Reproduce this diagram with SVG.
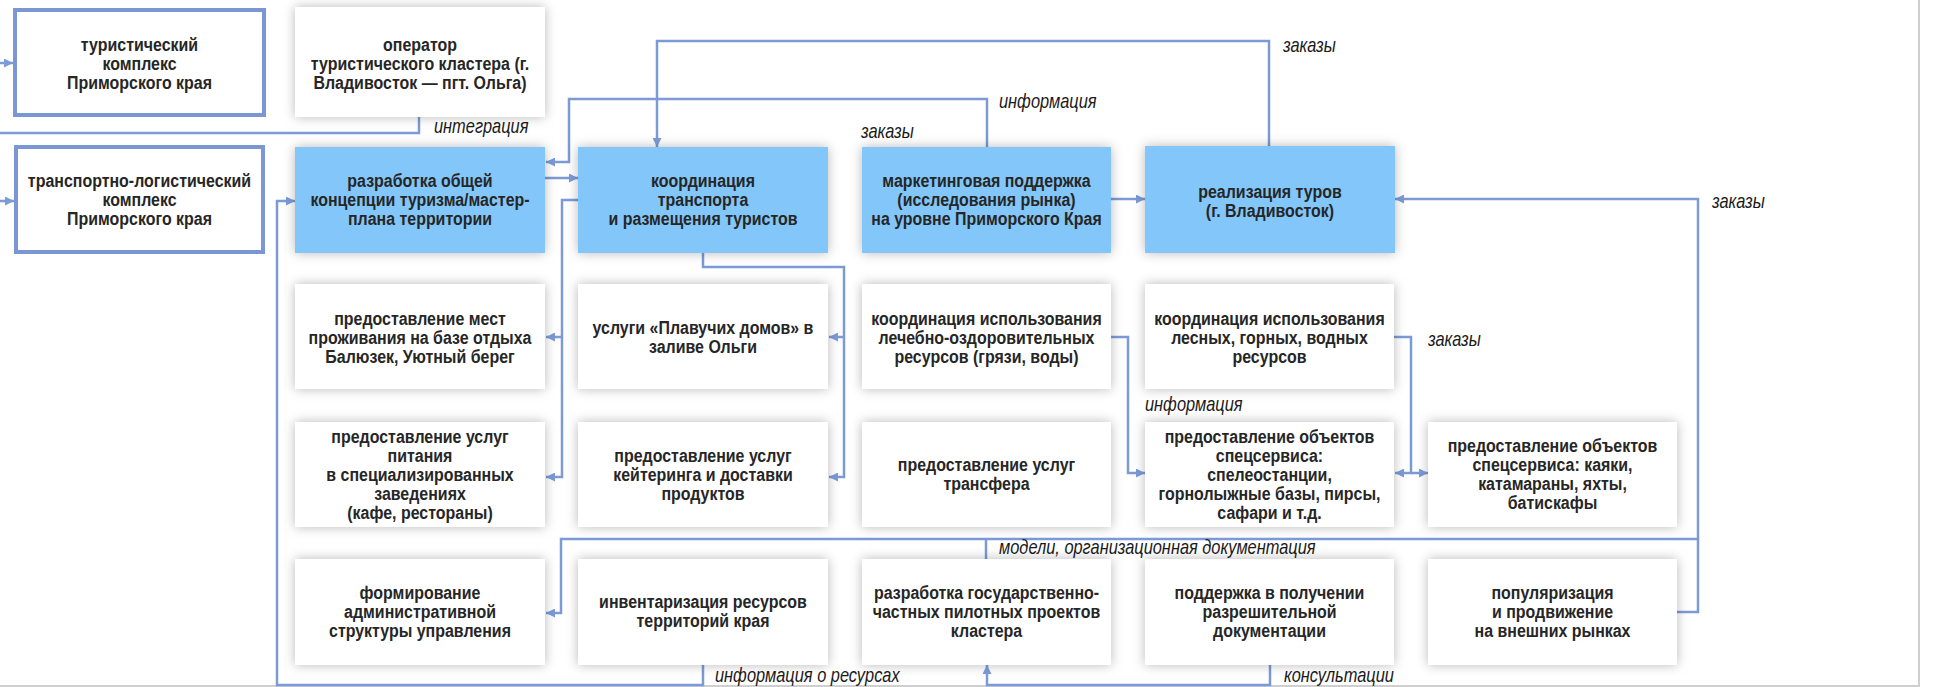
<svg xmlns="http://www.w3.org/2000/svg" width="1943" height="687" viewBox="0 0 1943 687">
<style>
.t{font-family:'Liberation Sans',Arial,sans-serif;font-weight:bold;font-size:19px;fill:#262626;text-anchor:middle}
.l{font-family:'Liberation Sans',Arial,sans-serif;font-style:italic;font-size:20px;fill:#1a1a1a}
.w{fill:#fff;filter:url(#sh)}
.b{fill:#82c6fa;filter:url(#sh)}
.o{fill:#fff;stroke:#7b97d3;stroke-width:4}
.c{fill:none;stroke:#7b9ad6;stroke-width:2.5}
.a{marker-end:url(#ar)}
</style>
<defs>
<filter id="sh" x="-20%" y="-30%" width="140%" height="160%">
<feDropShadow dx="0" dy="0" stdDeviation="6" flood-color="#000" flood-opacity="0.28"/>
</filter>
<marker id="ar" markerUnits="userSpaceOnUse" markerWidth="10" markerHeight="9" refX="9" refY="4.5" orient="auto">
<path d="M0,0 L9,4.5 L0,9 Z" fill="#7b9ad6"/>
</marker>
</defs>
<rect width="1943" height="687" fill="#fff"/>
<path d="M1919,0 V686 H0" fill="none" stroke="#cfcfcf" stroke-width="2"/>

<g id="connectors">
<path class="c a" d="M0,63 H13"/>
<path class="c a" d="M0,201 H14"/>
<path class="c" d="M419,117 V133 H0"/>
<path class="c a" d="M545,178 H578"/>
<path class="c a" d="M987,147 V99 H569 V162 H546"/>
<path class="c a" d="M1269,146 V41 H657 V147"/>
<path class="c a" d="M1111,199 H1145"/>
<path class="c a" d="M1677,612 H1698 V199 H1395"/>
<path class="c a" d="M1698,539 H561 V613 H546"/>
<path class="c" d="M986,559 V539"/>
<path class="c a" d="M578,200 H562 V477 H546"/>
<path class="c a" d="M562,337 H546"/>
<path class="c a" d="M703,253 V267 H844 V477 H829"/>
<path class="c a" d="M844,337 H829"/>
<path class="c a" d="M1111,337 H1128 V473 H1145"/>
<path class="c a" d="M1394,337 H1411 V473 H1395"/>
<path class="c a" d="M1411,473 H1428"/>
<path class="c a" d="M703,665 V685 H277 V201 H295"/>
<path class="c a" d="M1270,665 V685 H987 V665"/>
<text class="l" transform="translate(434 0) scale(.82 1)" x="0" y="133">интеграция</text>
<text class="l" transform="translate(999 0) scale(.82 1)" x="0" y="108">информация</text>
<text class="l" transform="translate(861 0) scale(.82 1)" x="0" y="138">заказы</text>
<text class="l" transform="translate(1283 0) scale(.82 1)" x="0" y="52">заказы</text>
<text class="l" transform="translate(1712 0) scale(.82 1)" x="0" y="208">заказы</text>
<text class="l" transform="translate(1428 0) scale(.82 1)" x="0" y="346">заказы</text>
<text class="l" transform="translate(1145 0) scale(.82 1)" x="0" y="411">информация</text>
<text class="l" transform="translate(999 0) scale(.82 1)" x="0" y="554">модели, организационная документация</text>
<text class="l" transform="translate(715 0) scale(.82 1)" x="0" y="682">информация о ресурсах</text>
<text class="l" transform="translate(1284 0) scale(.82 1)" x="0" y="682">консультации</text>
</g>

<g id="n-tourist"><rect class="o" x="15" y="10" width="249" height="105"/>
<text class="t" transform="translate(139.5 0) scale(.84 1)"><tspan x="0" y="51">туристический</tspan><tspan x="0" y="70">комплекс</tspan><tspan x="0" y="89">Приморского края</tspan></text></g>
<g id="n-operator"><rect class="w" x="295" y="7" width="250" height="110"/>
<text class="t" transform="translate(420 0) scale(.84 1)"><tspan x="0" y="51">оператор</tspan><tspan x="0" y="70">туристического кластера (г.</tspan><tspan x="0" y="89">Владивосток — пгт. Ольга)</tspan></text></g>
<g id="n-transport"><rect class="o" x="16" y="147" width="247" height="105"/>
<text class="t" transform="translate(139.5 0) scale(.84 1)"><tspan x="0" y="187">транспортно-логистический</tspan><tspan x="0" y="206">комплекс</tspan><tspan x="0" y="225">Приморского края</tspan></text></g>

<g id="n-concept"><rect class="b" x="295" y="147" width="250" height="106"/>
<text class="t" transform="translate(420 0) scale(.84 1)"><tspan x="0" y="187">разработка общей</tspan><tspan x="0" y="206">концепции туризма/мастер-</tspan><tspan x="0" y="225">плана территории</tspan></text></g>
<g id="n-coord"><rect class="b" x="578" y="147" width="250" height="106"/>
<text class="t" transform="translate(703 0) scale(.84 1)"><tspan x="0" y="187">координация</tspan><tspan x="0" y="206">транспорта</tspan><tspan x="0" y="225">и размещения туристов</tspan></text></g>
<g id="n-marketing"><rect class="b" x="862" y="147" width="249" height="106"/>
<text class="t" transform="translate(986.5 0) scale(.84 1)"><tspan x="0" y="187">маркетинговая поддержка</tspan><tspan x="0" y="206">(исследования рынка)</tspan><tspan x="0" y="225">на уровне Приморского Края</tspan></text></g>
<g id="n-tours"><rect class="b" x="1145" y="146" width="250" height="107"/>
<text class="t" transform="translate(1270 0) scale(.84 1)"><tspan x="0" y="198.5">реализация туров</tspan><tspan x="0" y="217.5">(г. Владивосток)</tspan></text></g>

<g id="n-lodging"><rect class="w" x="295" y="284" width="250" height="105"/>
<text class="t" transform="translate(420 0) scale(.84 1)"><tspan x="0" y="325">предоставление мест</tspan><tspan x="0" y="344">проживания на базе отдыха</tspan><tspan x="0" y="363">Балюзек, Уютный берег</tspan></text></g>
<g id="n-houseboats"><rect class="w" x="578" y="284" width="250" height="105"/>
<text class="t" transform="translate(703 0) scale(.84 1)"><tspan x="0" y="334.5">услуги «Плавучих домов» в</tspan><tspan x="0" y="353.5">заливе Ольги</tspan></text></g>
<g id="n-health"><rect class="w" x="862" y="284" width="249" height="105"/>
<text class="t" transform="translate(986.5 0) scale(.84 1)"><tspan x="0" y="325">координация использования</tspan><tspan x="0" y="344">лечебно-оздоровительных</tspan><tspan x="0" y="363">ресурсов (грязи, воды)</tspan></text></g>
<g id="n-forest"><rect class="w" x="1145" y="284" width="249" height="105"/>
<text class="t" transform="translate(1269.5 0) scale(.84 1)"><tspan x="0" y="325">координация использования</tspan><tspan x="0" y="344">лесных, горных, водных</tspan><tspan x="0" y="363">ресурсов</tspan></text></g>

<g id="n-food"><rect class="w" x="295" y="422" width="250" height="105"/>
<text class="t" transform="translate(420 0) scale(.84 1)"><tspan x="0" y="443">предоставление услуг</tspan><tspan x="0" y="462">питания</tspan><tspan x="0" y="481">в специализированных</tspan><tspan x="0" y="500">заведениях</tspan><tspan x="0" y="519">(кафе, рестораны)</tspan></text></g>
<g id="n-catering"><rect class="w" x="578" y="422" width="250" height="105"/>
<text class="t" transform="translate(703 0) scale(.84 1)"><tspan x="0" y="462">предоставление услуг</tspan><tspan x="0" y="481">кейтеринга и доставки</tspan><tspan x="0" y="500">продуктов</tspan></text></g>
<g id="n-transfer"><rect class="w" x="862" y="422" width="249" height="105"/>
<text class="t" transform="translate(986.5 0) scale(.84 1)"><tspan x="0" y="471.5">предоставление услуг</tspan><tspan x="0" y="490.5">трансфера</tspan></text></g>
<g id="n-special1"><rect class="w" x="1145" y="422" width="249" height="105"/>
<text class="t" transform="translate(1269.5 0) scale(.84 1)"><tspan x="0" y="443">предоставление объектов</tspan><tspan x="0" y="462">спецсервиса:</tspan><tspan x="0" y="481">спелеостанции,</tspan><tspan x="0" y="500">горнолыжные базы, пирсы,</tspan><tspan x="0" y="519">сафари и т.д.</tspan></text></g>
<g id="n-special2"><rect class="w" x="1428" y="422" width="249" height="105"/>
<text class="t" transform="translate(1552.5 0) scale(.84 1)"><tspan x="0" y="452.5">предоставление объектов</tspan><tspan x="0" y="471.5">спецсервиса: каяки,</tspan><tspan x="0" y="490.5">катамараны, яхты,</tspan><tspan x="0" y="509.5">батискафы</tspan></text></g>

<g id="n-admin"><rect class="w" x="295" y="559" width="250" height="106"/>
<text class="t" transform="translate(420 0) scale(.84 1)"><tspan x="0" y="599">формирование</tspan><tspan x="0" y="618">административной</tspan><tspan x="0" y="637">структуры управления</tspan></text></g>
<g id="n-inventory"><rect class="w" x="578" y="559" width="250" height="106"/>
<text class="t" transform="translate(703 0) scale(.84 1)"><tspan x="0" y="608.5">инвентаризация ресурсов</tspan><tspan x="0" y="627.5">территорий края</tspan></text></g>
<g id="n-ppp"><rect class="w" x="862" y="559" width="249" height="106"/>
<text class="t" transform="translate(986.5 0) scale(.84 1)"><tspan x="0" y="599">разработка государственно-</tspan><tspan x="0" y="618">частных пилотных проектов</tspan><tspan x="0" y="637">кластера</tspan></text></g>
<g id="n-permits"><rect class="w" x="1145" y="559" width="249" height="106"/>
<text class="t" transform="translate(1269.5 0) scale(.84 1)"><tspan x="0" y="599">поддержка в получении</tspan><tspan x="0" y="618">разрешительной</tspan><tspan x="0" y="637">документации</tspan></text></g>
<g id="n-promo"><rect class="w" x="1428" y="559" width="249" height="106"/>
<text class="t" transform="translate(1552.5 0) scale(.84 1)"><tspan x="0" y="599">популяризация</tspan><tspan x="0" y="618">и продвижение</tspan><tspan x="0" y="637">на внешних рынках</tspan></text></g>
</svg>
